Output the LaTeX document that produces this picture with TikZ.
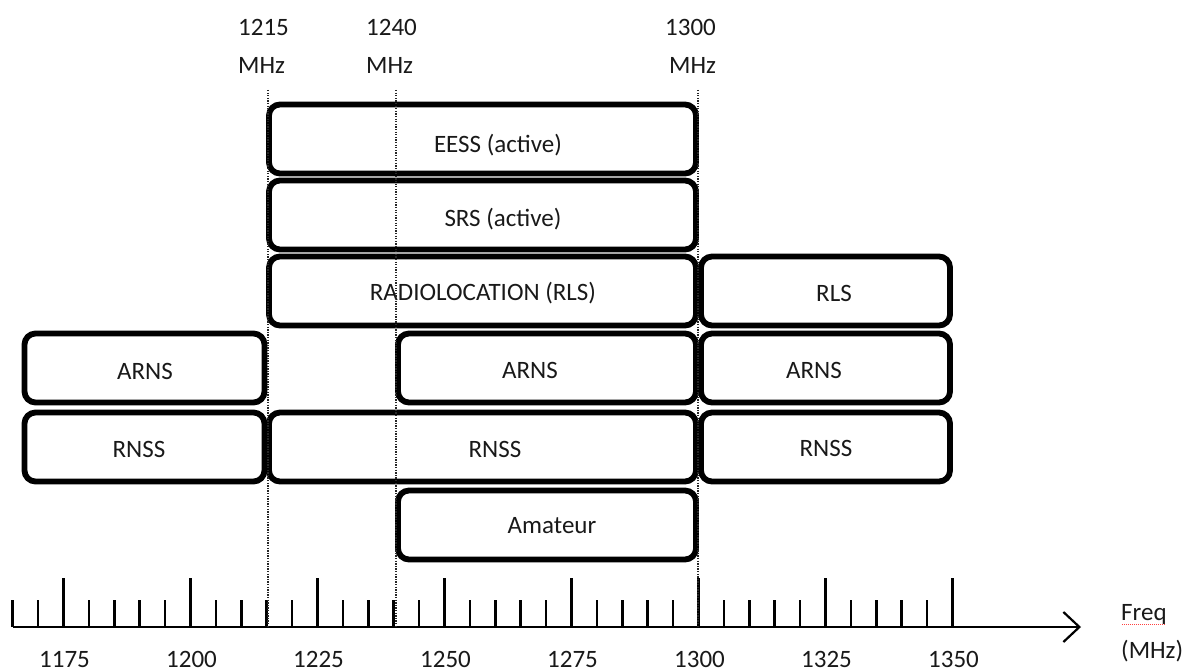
\documentclass[tikz,border=0pt]{standalone}
\usepackage{fontspec}
\setmainfont{Carlito}
\usetikzlibrary{arrows.meta}
\begin{document}
\begin{tikzpicture}[x=1pt,y=-1pt,
  box/.style={draw, line width=5.8pt, rounded corners=11pt, inner sep=0pt, minimum height=69pt},
  lbl/.style={font=\fontsize{25}{30}\selectfont, inner sep=0pt, text height=16pt, text depth=0pt, anchor=center, text=black!90},
  lblw/.style={lbl, anchor=west},
  guide/.style={line width=1.8pt, dash pattern=on 1.3pt off 1.3pt, black!85},
  axisline/.style={line width=2.5pt, -{Straight Barb[length=16pt,width=30pt,line width=2.2pt]}},
  tickline/.style={line width=2.5pt}
]
\useasboundingbox (0,0) rectangle (1185,671);

% boxes
\node[box, minimum width=427pt] (eess) at (482.5,139) {};
\node[box, minimum width=427pt] (srs)  at (482.5,215) {};
\node[box, minimum width=427pt] (rad)  at (482.5,291) {};
\node[box, minimum width=249pt] (rls)  at (825.5,291) {};
\node[box, minimum width=240pt] (arnsL) at (144.5,368) {};
\node[box, minimum width=298pt] (arnsM) at (547,368) {};
\node[box, minimum width=249pt] (arnsR) at (825.5,368) {};
\node[box, minimum width=240pt] (rnssL) at (144.5,447) {};
\node[box, minimum width=427pt] (rnssM) at (482.5,447) {};
\node[box, minimum width=249pt] (rnssR) at (825.5,447) {};
\node[box, minimum width=298pt] (amat) at (547,525) {};

% box labels
\node[lbl] (teess) at (498,145) {EESS (active)};
\node[lbl] (tsrs) at (503,218) {SRS (active)};
\node[lbl] (trad) at (483,292) {RADIOLOCATION (RLS)};
\node[lbl] (trls) at (834,293) {RLS};
\node[lbl] (tarnsL) at (145,371) {ARNS};
\node[lbl] (tarnsM) at (530,370) {ARNS};
\node[lbl] (tarnsR) at (814,370) {ARNS};
\node[lbl] (trnssL) at (139,449) {RNSS};
\node[lbl] (trnssM) at (495,449) {RNSS};
\node[lbl] (trnssR) at (826,448) {RNSS};
\node[lbl] (tamat) at (552,525) {Amateur};

% axis
\coordinate (axstart) at (13,627);
\coordinate (axend) at (1081,627);
\draw[axisline] (axstart) -- (axend);
\foreach \f in {1165,1170,...,1350} {
  \pgfmathsetmacro\xx{63.5+5.08*(\f-1175)}
  \draw[tickline] (\xx,627) -- (\xx,600);
}
\foreach \f in {1175,1200,...,1350} {
  \pgfmathsetmacro\xx{63.5+5.08*(\f-1175)}
  \draw[tickline] (\xx,627) -- (\xx,578);
  \node[lbl] (t\f) at (\xx+1,659) {\f};
}

% guide lines
\coordinate (g1top) at (268,90);  \coordinate (g1bot) at (268,626);
\coordinate (g2top) at (396,90);  \coordinate (g2bot) at (396,626);
\coordinate (g3top) at (698,90);  \coordinate (g3bot) at (698,626);
\draw[guide] (g1top) -- (g1bot);
\draw[guide] (g2top) -- (g2bot);
\draw[guide] (g3top) -- (g3bot);

% top labels
\node[lblw] (f1215) at (238,28) {1215};
\node[lblw] (m1215) at (238,66) {MHz};
\node[lblw] (f1240) at (366,28) {1240};
\node[lblw] (m1240) at (366,66) {MHz};
\node[lblw] (f1300) at (665,28) {1300};
\node[lblw] (m1300) at (669,66) {MHz};

% axis title
\node[lblw] (freq) at (1121,612) {Freq};
\node[lblw] (fmhz) at (1121,650) {(MHz)};
\draw[red!75, line width=0.8pt, dash pattern=on 1pt off 1pt] (1122,624.5) -- (1166,624.5);
\end{tikzpicture}
\end{document}
